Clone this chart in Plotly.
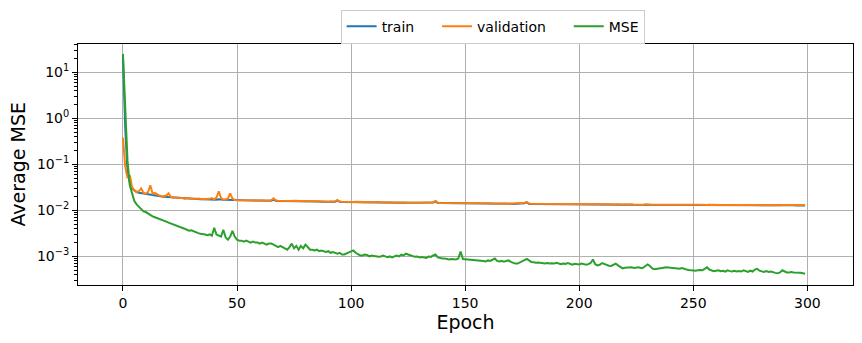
import plotly.graph_objects as go

# per-epoch losses (log scale)
epochs = list(range(300))

train = [
    22.0, 0.6, 0.07, 0.04, 0.03, 0.027, 0.025, 0.024, 0.0235, 0.023,
    0.0225, 0.022, 0.0215, 0.021, 0.0208, 0.0205, 0.0202, 0.020, 0.0198, 0.0196,
    0.0194, 0.0192, 0.019, 0.0188, 0.0186, 0.0184, 0.0182, 0.0181, 0.018, 0.0179,
    0.0178, 0.0177, 0.0176, 0.0175, 0.0174, 0.0174, 0.0173, 0.0173, 0.0172, 0.0172,
    0.0171, 0.0171, 0.0175, 0.0170, 0.0170, 0.0169, 0.0169, 0.0172, 0.0168, 0.0167,
    0.0167, 0.0166, 0.0166, 0.0165, 0.0165, 0.0165, 0.0164, 0.0164, 0.0163, 0.0163,
    0.0163, 0.0162, 0.0162, 0.0162, 0.0161, 0.0161, 0.0172, 0.0161, 0.0160, 0.0160,
    0.0160, 0.0159, 0.0159, 0.0159, 0.0158, 0.0158, 0.0158, 0.0157, 0.0157, 0.0157,
    0.0156, 0.0156, 0.0156, 0.0155, 0.0155, 0.0155, 0.0155, 0.0154, 0.0154, 0.0154,
    0.0153, 0.0153, 0.0153, 0.0153, 0.0163, 0.0153, 0.0152, 0.0152, 0.0152, 0.0152,
    0.0151, 0.0151, 0.0151, 0.0150, 0.0150, 0.0150, 0.0150, 0.0150, 0.0149, 0.0149,
    0.0149, 0.0149, 0.0149, 0.0148, 0.0148, 0.0148, 0.0148, 0.0148, 0.0147, 0.0147,
    0.0147, 0.0147, 0.0147, 0.0146, 0.0146, 0.0146, 0.0146, 0.0146, 0.0145, 0.0145,
    0.0145, 0.0145, 0.0145, 0.0145, 0.0144, 0.0144, 0.0148, 0.0156, 0.0144, 0.0144,
    0.0144, 0.0143, 0.0143, 0.0143, 0.0143, 0.0143, 0.0142, 0.0142, 0.0142, 0.0142,
    0.0142, 0.0142, 0.0141, 0.0141, 0.0141, 0.0141, 0.0141, 0.0141, 0.0140, 0.0140,
    0.0140, 0.0140, 0.0140, 0.0140, 0.0139, 0.0139, 0.0139, 0.0139, 0.0139, 0.0139,
    0.0139, 0.0138, 0.0138, 0.0138, 0.0138, 0.0138, 0.0143, 0.0149, 0.0138, 0.0138,
    0.0138, 0.0137, 0.0137, 0.0137, 0.0137, 0.0137, 0.0137, 0.0136, 0.0136, 0.0136,
    0.0136, 0.0136, 0.0136, 0.0136, 0.0135, 0.0135, 0.0135, 0.0135, 0.0135, 0.0135,
    0.0135, 0.0135, 0.0134, 0.0134, 0.0134, 0.0134, 0.0136, 0.0134, 0.0134, 0.0134,
    0.0134, 0.0134, 0.0133, 0.0133, 0.0133, 0.0133, 0.0133, 0.0133, 0.0133, 0.0133,
    0.0133, 0.0132, 0.0132, 0.0132, 0.0132, 0.0132, 0.0132, 0.0132, 0.0132, 0.0132,
    0.0133, 0.0132, 0.0132, 0.0131, 0.0131, 0.0131, 0.0131, 0.0131, 0.0131, 0.0131,
    0.0131, 0.0131, 0.0131, 0.0131, 0.0131, 0.0131, 0.0131, 0.0131, 0.0131, 0.0131,
    0.0131, 0.0131, 0.0131, 0.0130, 0.0130, 0.0130, 0.0130, 0.0130, 0.0130, 0.0130,
    0.0130, 0.0130, 0.0130, 0.0130, 0.0130, 0.0130, 0.0130, 0.0130, 0.0130, 0.0130,
    0.0130, 0.0130, 0.0130, 0.0129, 0.0129, 0.0129, 0.0129, 0.0129, 0.0129, 0.0129,
    0.0129, 0.0129, 0.0129, 0.0129, 0.0129, 0.0129, 0.0129, 0.0129, 0.0129, 0.0129,
    0.0129, 0.0129, 0.0129, 0.0129, 0.0129, 0.0128, 0.0128, 0.0128, 0.0128, 0.0128,
]

validation = [
    0.38, 0.09, 0.05, 0.058, 0.032, 0.027, 0.025, 0.026, 0.030, 0.024,
    0.023, 0.025, 0.035, 0.023, 0.024, 0.022, 0.021, 0.020, 0.0205, 0.021,
    0.0235, 0.0195, 0.019, 0.0192, 0.0188, 0.0185, 0.0186, 0.018, 0.0182, 0.0185,
    0.0178, 0.0176, 0.0178, 0.018, 0.0176, 0.0174, 0.0176, 0.0175, 0.0178, 0.0185,
    0.0174, 0.019, 0.026, 0.0185, 0.0172, 0.0174, 0.018, 0.0235, 0.018, 0.0168,
    0.0168, 0.0167, 0.0169, 0.0166, 0.0165, 0.0167, 0.0165, 0.0164, 0.0166, 0.0164,
    0.0163, 0.0165, 0.0163, 0.0162, 0.0164, 0.0166, 0.0182, 0.0165, 0.0162, 0.0161,
    0.0162, 0.0160, 0.0161, 0.0159, 0.0160, 0.0161, 0.0159, 0.0158, 0.0160, 0.0158,
    0.0157, 0.0159, 0.0157, 0.0156, 0.0158, 0.0156, 0.0157, 0.0155, 0.0156, 0.0155,
    0.0154, 0.0156, 0.0154, 0.0157, 0.0168, 0.0156, 0.0154, 0.0153, 0.0155, 0.0153,
    0.0153, 0.0152, 0.0154, 0.0152, 0.0151, 0.0153, 0.0151, 0.0152, 0.0150, 0.0151,
    0.0150, 0.0152, 0.0150, 0.0149, 0.0151, 0.0149, 0.0150, 0.0148, 0.0150, 0.0148,
    0.0148, 0.0149, 0.0147, 0.0149, 0.0148, 0.0147, 0.0148, 0.0146, 0.0148, 0.0147,
    0.0146, 0.0147, 0.0146, 0.0145, 0.0147, 0.0146, 0.0150, 0.0160, 0.0147, 0.0145,
    0.0145, 0.0146, 0.0144, 0.0145, 0.0144, 0.0143, 0.0145, 0.0144, 0.0143, 0.0144,
    0.0143, 0.0142, 0.0144, 0.0142, 0.0143, 0.0142, 0.0141, 0.0143, 0.0141, 0.0142,
    0.0141, 0.0142, 0.0140, 0.0141, 0.0142, 0.0140, 0.0141, 0.0140, 0.0141, 0.0139,
    0.0140, 0.0141, 0.0139, 0.0140, 0.0139, 0.0141, 0.0146, 0.0152, 0.0141, 0.0139,
    0.0139, 0.0140, 0.0138, 0.0139, 0.0138, 0.0139, 0.0138, 0.0137, 0.0139, 0.0138,
    0.0137, 0.0138, 0.0137, 0.0138, 0.0136, 0.0137, 0.0138, 0.0136, 0.0137, 0.0136,
    0.0137, 0.0136, 0.0137, 0.0135, 0.0136, 0.0137, 0.0139, 0.0136, 0.0135, 0.0136,
    0.0135, 0.0136, 0.0135, 0.0136, 0.0135, 0.0134, 0.0136, 0.0135, 0.0134, 0.0135,
    0.0134, 0.0135, 0.0134, 0.0135, 0.0134, 0.0133, 0.0135, 0.0134, 0.0133, 0.0135,
    0.0137, 0.0134, 0.0133, 0.0134, 0.0133, 0.0134, 0.0133, 0.0132, 0.0134, 0.0133,
    0.0132, 0.0133, 0.0134, 0.0132, 0.0133, 0.0132, 0.0133, 0.0132, 0.0131, 0.0133,
    0.0132, 0.0131, 0.0132, 0.0133, 0.0131, 0.0132, 0.0131, 0.0132, 0.0131, 0.0130,
    0.0132, 0.0131, 0.0130, 0.0131, 0.0132, 0.0130, 0.0131, 0.0130, 0.0131, 0.0130,
    0.0131, 0.0130, 0.0131, 0.0130, 0.0129, 0.0131, 0.0130, 0.0131, 0.0130, 0.0129,
    0.0130, 0.0129, 0.0131, 0.0130, 0.0129, 0.0130, 0.0129, 0.0130, 0.0129, 0.0130,
    0.0130, 0.0131, 0.0130, 0.0129, 0.0130, 0.0130, 0.0129, 0.0130, 0.0129, 0.0130,
]

mse = [
    25.0, 1.2, 0.12, 0.035, 0.022, 0.016, 0.0135, 0.012, 0.0105, 0.0095,
    0.0092, 0.0085, 0.0078, 0.0074, 0.0071, 0.0068, 0.0066, 0.0064, 0.0060, 0.0057,
    0.0054, 0.0052, 0.0050, 0.0047, 0.0045, 0.0043, 0.0042, 0.0040, 0.0038, 0.0036,
    0.0037, 0.0035, 0.0033, 0.0032, 0.0031, 0.0031, 0.0030, 0.0029, 0.0030, 0.0028,
    0.0042, 0.0030, 0.0028, 0.0027, 0.0038, 0.0026, 0.0023, 0.0027, 0.0036, 0.0027,
    0.0023, 0.0022, 0.0022, 0.0021, 0.0022, 0.0021, 0.0020, 0.0021, 0.0020, 0.0020,
    0.0019, 0.0020, 0.0019, 0.0018, 0.0019, 0.0019, 0.0018, 0.0017, 0.0016, 0.0017,
    0.0016, 0.0015, 0.0014, 0.0016, 0.0019, 0.0015, 0.0017, 0.0014, 0.0017, 0.0015,
    0.0018, 0.0016, 0.0014, 0.0014, 0.00135, 0.0014, 0.0013, 0.00135, 0.0013, 0.00125,
    0.0013, 0.0012, 0.00125, 0.0012, 0.00115, 0.0012, 0.0011, 0.0011, 0.00115, 0.0012,
    0.0013, 0.00135, 0.0012, 0.0011, 0.00105, 0.00105, 0.0011, 0.00108, 0.0010, 0.00105,
    0.00102, 0.0010, 0.00098, 0.0010, 0.00105, 0.0010, 0.00096, 0.0010, 0.00095, 0.0010,
    0.00105, 0.0010, 0.0011, 0.00105, 0.00115, 0.0011, 0.00105, 0.0010, 0.00098, 0.0010,
    0.00095, 0.00097, 0.00095, 0.00093, 0.0010, 0.00098, 0.00105, 0.0011, 0.00095, 0.00092,
    0.0009, 0.0009, 0.00088, 0.00086, 0.00088, 0.00087, 0.00086, 0.0009, 0.00128, 0.00088,
    0.00087, 0.00086, 0.00085, 0.00086, 0.00084, 0.00085, 0.00082, 0.0008, 0.0008, 0.00078,
    0.00082, 0.0008, 0.00085, 0.0009, 0.0008, 0.00078, 0.0008, 0.00077, 0.0008, 0.00082,
    0.00076, 0.00072, 0.0007, 0.0007, 0.00075, 0.00078, 0.00083, 0.00088, 0.0008, 0.00076,
    0.00075, 0.00073, 0.00074, 0.00072, 0.00071, 0.0007, 0.00072, 0.0007, 0.00071, 0.0007,
    0.00073, 0.0007, 0.00068, 0.0007, 0.00069, 0.00072, 0.00068, 0.00066, 0.00069, 0.00068,
    0.00067, 0.0007, 0.00068, 0.00066, 0.00068, 0.00072, 0.00086, 0.00068, 0.00064, 0.00066,
    0.00072, 0.00068, 0.00064, 0.00063, 0.00062, 0.00066, 0.0007, 0.00064, 0.00058, 0.00055,
    0.00057, 0.00058, 0.00057, 0.00058, 0.00056, 0.00057, 0.00058, 0.00056, 0.00057, 0.00062,
    0.00067, 0.00062, 0.00055, 0.00053, 0.00054, 0.00057, 0.00058, 0.00057, 0.00058, 0.00057,
    0.00056, 0.00055, 0.00056, 0.00055, 0.00054, 0.00056, 0.00053, 0.00052, 0.00051, 0.0005,
    0.0005, 0.00049, 0.0005, 0.00051, 0.0005, 0.00055, 0.00058, 0.00052, 0.00049, 0.00048,
    0.00049, 0.0005, 0.00048, 0.00049, 0.00047, 0.0005, 0.00048, 0.00047, 0.00049, 0.00047,
    0.00048, 0.00047, 0.0005, 0.00047, 0.00046, 0.00049, 0.00047, 0.00052, 0.00054, 0.00049,
    0.00047, 0.00046, 0.00048, 0.00046, 0.00047, 0.00045, 0.00044, 0.00043, 0.00045, 0.0005,
    0.00048, 0.00045, 0.00045, 0.00046, 0.00045, 0.00045, 0.00044, 0.00044, 0.00043, 0.00042,
]

x_ticks = [0, 50, 100, 150, 200, 250, 300]
y_ticks = [1e-3, 1e-2, 1e-1, 1, 10]
y_tick_text = ["10<sup>\u22123</sup>", "10<sup>\u22122</sup>", "10<sup>\u22121</sup>",
               "10<sup>0</sup>", "10<sup>1</sup>"]
y_minor = [m * 10.0 ** e for e in range(-4, 2) for m in range(2, 10)]

series = [
    ("train", train, "#1f77b4"),
    ("validation", validation, "#ff7f0e"),
    ("MSE", mse, "#2ca02c"),
]

# pad legend labels so the entries sit as far apart as in the reference
pad = "&nbsp;" * 4

fig = go.Figure()
for i, (name, vals, color) in enumerate(series):
    label = name + pad if i < len(series) - 1 else name
    fig.add_trace(go.Scatter(
        x=epochs, y=vals, name=label, mode="lines",
        line=dict(color=color, width=2),
    ))

axis_common = dict(
    showline=True, linecolor="black", linewidth=1, mirror=True,
    ticks="outside", ticklen=5, tickcolor="black",
    showgrid=True, gridcolor="#b0b0b0", gridwidth=1,
    zeroline=False, automargin=False,
    tickfont=dict(size=14, color="black"),
)

fig.update_xaxes(
    range=[-19.7, 320], tickvals=x_ticks,
    title=dict(text="Epoch", font=dict(size=19, color="black"), standoff=4),
    **axis_common,
)
fig.update_yaxes(
    type="log", range=[-3.62, 1.62],
    tickvals=y_ticks, ticktext=y_tick_text,
    minor=dict(tickvals=y_minor, ticks="outside", ticklen=3,
               tickcolor="black", showgrid=False),
    title=dict(text="Average MSE", font=dict(size=19, color="black"), standoff=6),
    **axis_common,
)

fig.update_layout(
    width=862, height=343,
    margin=dict(l=78, r=9, t=40, b=58),
    paper_bgcolor="white", plot_bgcolor="white",
    font=dict(family="DejaVu Sans", color="black"),
    showlegend=True,
    legend=dict(
        orientation="h", x=0.535, xanchor="center",
        yref="container", y=0.972, yanchor="top",
        bordercolor="#cccccc", borderwidth=1, bgcolor="white",
        font=dict(size=14), itemwidth=30,
    ),
)

# the page body has a default 8px margin; drop it so the figure sits at (0, 0)
fig.write_html("out.html", config={"displayModeBar": False},
               post_script="document.body.style.margin='0px';")
